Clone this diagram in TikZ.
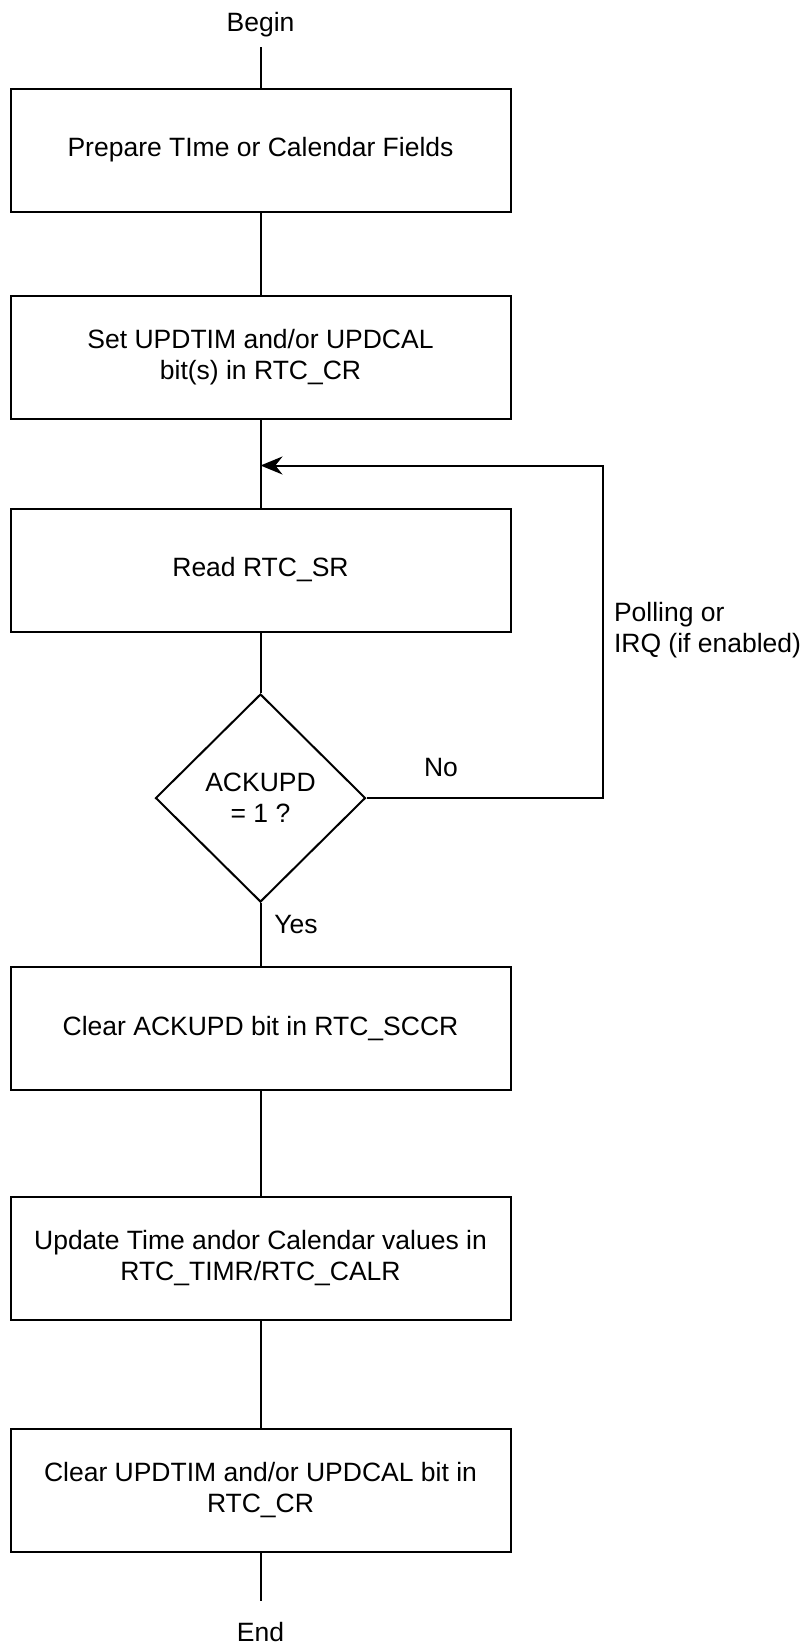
\documentclass[tikz,border=0pt]{standalone}
\usepackage{fontspec}
\setmainfont{Liberation Sans}
\usetikzlibrary{arrows.meta,shapes.geometric}

\begin{document}
\begin{tikzpicture}[x=1pt, y=1pt, line width=2pt, >={Stealth[length=22pt,width=18pt]},
    font=\fontsize{26.5}{31}\selectfont,
    stepbox/.style={draw, rectangle, minimum width=500pt, minimum height=123pt, align=center},
    test/.style={draw, diamond, aspect=1, minimum width=210pt, minimum height=208pt, inner sep=0pt, align=center},
    tag/.style={inner sep=0pt, align=left}]
    \useasboundingbox (0,0) rectangle (800,-1644);

    \node[inner sep=9pt] at (260.5,-25) (begin) {Begin};
    \node[stepbox] at (260.5,-150) (b 1) {Prepare TIme or Calendar Fields};
    \node[stepbox] at (260.5,-357.5) (b 2) {Set UPDTIM and/or UPDCAL\\bit(s) in RTC\_CR};
    \node[stepbox] at (260.5,-570) (b 3) {Read RTC\_SR};
    \node[test] at (260.5,-798) (dec) {ACKUPD\\= 1 ?};
    \node[stepbox] at (260.5,-1028.5) (b 4) {Clear ACKUPD bit in RTC\_SCCR};
    \node[stepbox] at (260.5,-1258.5) (b 5) {Update Time andor Calendar values in\\RTC\_TIMR/RTC\_CALR};
    \node[stepbox] at (260.5,-1490) (b 6) {Clear UPDTIM and/or UPDCAL bit in\\RTC\_CR};
    \node[inner sep=20pt] at (260.5,-1632) (end) {End};

    \coordinate (join) at (260.5,-465.5);

    \draw (begin) -- (b 1);
    \draw (b 1) -- (b 2);
    \draw (b 2) -- (b 3);
    \draw (b 3) -- (dec);
    \draw (dec) -- (b 4);
    \draw (b 4) -- (b 5);
    \draw (b 5) -- (b 6);
    \draw (b 6) -- (end);

    % no: back to the read step
    \draw[->] (dec.east) -- ++(236,0) |- (join);

    \node[tag] at (441,-768) (no) {No};
    \node[tag] at (296,-925) (yes) {Yes};
    \node[tag, anchor=west] at (613,-630) (poll) {Polling or\\IRQ (if enabled)};
\end{tikzpicture}
\end{document}
